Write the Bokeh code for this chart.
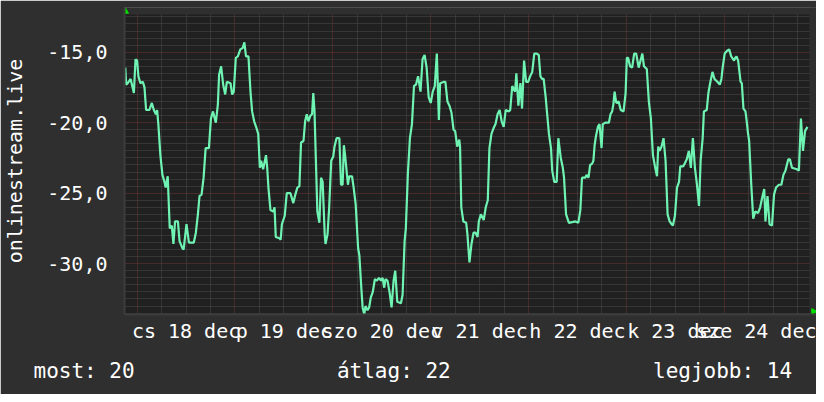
import math
from bokeh.plotting import figure
from bokeh.models import Range1d, FixedTicker, Title
from bokeh.embed import file_html
from bokeh.resources import INLINE

# hours since Thu 18 Dec 00:00
hours = [
    -2.9, -2.7, -2.3, -1.6, -0.8, -0.4, 0.0, 0.3, 0.8, 1.4, 1.8, 2.2, 3.0, 3.6, 4.1, 4.6, 4.9, 5.2, 5.7, 6.2,
    6.7, 7.0, 7.5, 8.0, 8.5, 8.9, 9.3, 10.0, 10.4, 11.1, 11.4, 12.1, 12.7, 13.9, 14.4, 14.9, 15.3, 15.8, 16.3, 16.8,
    17.6, 18.1, 18.6, 19.3, 19.8, 20.1, 20.6, 21.1, 21.6, 22.0, 22.9, 23.3, 23.7, 24.2, 24.7, 25.3,
    25.9, 26.3, 26.7, 27.3, 27.8, 28.2, 28.7, 29.3, 29.7, 30.1, 30.4, 30.9, 31.6, 31.9, 32.2, 32.7, 33.4, 33.7,
    34.0, 34.9, 35.2, 35.5, 36.2, 36.7, 37.6, 38.3, 38.8, 39.3, 39.8, 40.2, 40.8, 41.2, 41.6, 42.0, 42.5, 42.9,
    43.2, 43.5, 43.8, 44.2, 44.7, 45.1, 45.5, 46.0, 46.2, 46.7, 47.1, 47.6, 48.1, 48.4, 48.9, 49.6, 50.0, 50.4,
    50.7, 51.0, 51.7, 52.0, 52.7, 53.1, 53.6,
    54.2, 54.5, 55.0, 55.3, 55.7, 56.0, 56.5, 56.9, 57.3, 57.8, 58.3, 58.8, 59.3, 59.8, 60.2, 60.6, 60.9, 61.4,
    61.9, 62.4, 62.9, 63.3, 63.8, 64.7, 65.1, 65.6, 65.9, 66.4, 66.9, 67.4, 67.9, 68.4, 68.9, 69.5, 70.0, 70.5,
    71.0, 71.5, 72.0, 72.5, 73.0, 73.5, 74.0, 74.3, 75.3, 75.6, 76.1, 76.6, 77.1, 77.6, 78.0, 78.5, 79.0, 79.2,
    79.5, 80.0, 80.7, 81.0, 81.5,
    82.0, 82.5, 83.0, 83.5, 83.8, 84.3, 85.0, 85.5, 86.0, 86.4, 86.9, 87.4, 87.9, 88.4, 88.9, 89.4, 89.9, 90.4,
    91.2, 91.5, 92.0, 92.7, 93.0, 93.5, 94.0, 94.4, 94.9, 95.4, 95.9, 96.4, 96.9, 97.4, 98.0, 98.5, 98.9, 99.3,
    99.7, 100.2, 100.5, 101.0, 101.5, 101.8, 102.3, 102.9, 103.3, 103.9, 104.4, 104.7, 105.2, 105.9, 107.5,
    108.2, 108.7, 109.1,
    109.9, 110.2, 110.7, 111.1, 111.6, 111.9, 112.2, 112.5, 113.0, 113.4, 113.9, 114.2, 114.8, 115.7, 116.1,
    116.5, 116.8, 117.1, 117.5, 118.1, 118.6, 119.3, 119.8, 120.1, 120.4, 120.9, 121.4, 121.9, 122.4, 123.0,
    123.9, 124.3, 125.0, 125.5, 126.0, 126.5, 127.0, 127.5, 127.8, 128.1, 128.6, 129.1, 129.6, 130.1, 130.6,
    131.1, 131.4, 131.9, 132.4, 132.9, 133.2, 133.9, 134.3, 134.8, 135.3, 135.8, 136.3, 136.8, 137.3, 137.8,
    138.2, 138.7, 139.0, 139.7, 140.1, 140.6, 141.1, 141.6, 142.3, 142.9, 143.3, 143.6, 144.1, 144.7, 145.2,
    145.7, 146.4, 146.7, 147.0, 147.4, 148.0, 148.3, 148.7, 149.2, 149.5, 149.8, 150.1, 150.6, 151.1, 151.6,
    152.3, 152.8, 153.3, 153.8, 154.1, 154.6, 155.1, 155.7, 156.2, 156.7, 157.4, 158.0, 158.5, 159.0, 159.7,
    160.1, 160.6, 161.8, 162.3, 162.8, 163.3, 163.8, 164.4,
]

values = [
    -16.1, -17.3, -17.2, -16.9, -17.9, -15.5, -15.6, -16.7, -17.2, -17.1, -17.5, -19.1, -19.1, -18.6, -19.1, -19.4, -19.1, -20.1, -22.3, -23.7,
    -24.2, -24.6, -23.8, -27.5, -27.3, -28.6, -27.0, -27.0, -28.4, -28.9, -29.0, -27.2, -28.5, -28.5, -27.8, -26.5, -25.2, -25.1, -23.9, -21.8,
    -21.8, -19.7, -19.2, -20.0, -18.7, -16.6, -16.0, -17.3, -18.0, -17.1, -17.2, -18.0, -17.8, -15.4, -15.3, -14.8,
    -14.7, -14.3, -15.3, -15.3, -17.8, -19.2, -19.9, -20.4, -20.8, -23.2, -22.7, -23.3, -22.3, -23.2, -24.6, -26.2, -26.3, -26.0,
    -28.1, -28.2, -28.3, -27.2, -26.6, -25.0, -25.0, -25.7, -25.1, -24.6, -24.5, -21.4, -21.3, -19.9, -19.4, -19.9, -19.5, -19.4,
    -17.9, -19.2, -22.3, -26.3, -27.1, -23.9, -24.2, -27.9, -28.6, -27.9, -26.0, -22.7, -22.4, -21.7, -21.1, -21.1, -24.4, -24.4,
    -21.6, -22.3, -24.4, -23.8, -23.8, -24.6, -25.8,
    -28.9, -29.4, -31.8, -33.1, -33.6, -33.0, -33.3, -33.1, -32.4, -32.0, -31.1, -31.2, -31.0, -31.2, -31.0, -31.7, -31.1, -31.2,
    -32.0, -33.1, -31.2, -30.5, -32.7, -32.8, -32.2, -28.4, -27.5, -23.6, -21.1, -20.1, -17.4, -17.3, -16.7, -17.8, -15.5, -15.2,
    -16.1, -18.2, -18.6, -17.8, -17.4, -15.1, -19.8, -17.2, -17.1, -17.1, -18.5, -18.8, -19.3, -20.5, -20.6, -21.7, -21.2, -21.7,
    -26.0, -27.0, -27.1, -27.9, -29.9,
    -28.6, -27.8, -27.8, -28.1, -27.0, -26.5, -26.9, -26.0, -25.5, -21.8, -20.8, -20.4, -20.1, -19.4, -19.1, -19.9, -20.3, -19.1,
    -19.2, -19.1, -17.4, -17.8, -16.5, -18.8, -17.2, -19.0, -15.6, -17.1, -17.1, -16.7, -16.4, -15.1, -15.1, -15.2, -16.7, -16.9,
    -16.9, -18.2, -19.2, -20.8, -21.8, -23.4, -24.2, -24.2, -21.1, -22.5, -23.2, -23.9, -26.5, -27.1, -27.0,
    -27.1, -26.2, -23.9,
    -23.9, -23.7, -23.9, -23.0, -22.9, -22.7, -21.6, -21.0, -20.3, -20.1, -21.8, -20.1, -20.0, -20.0, -19.4,
    -19.2, -18.7, -17.8, -18.6, -18.5, -19.1, -19.2, -17.9, -15.4, -15.4, -16.0, -16.1, -15.1, -15.1, -16.1,
    -15.1, -16.0, -16.2, -18.5, -19.7, -22.3, -23.1, -23.8, -21.7, -22.0, -21.7, -21.1, -22.7, -26.5, -27.0,
    -27.2, -27.3, -26.6, -24.6, -24.2, -23.1, -23.1, -22.9, -22.6, -22.0, -23.2, -21.1, -23.2, -24.4, -25.9,
    -22.7, -21.1, -19.2, -19.1, -17.9, -17.1, -16.4, -16.9, -17.1, -17.3, -16.9, -16.1, -15.1, -14.9, -14.8,
    -15.3, -15.6, -15.4, -15.3, -15.6, -17.1, -17.2, -19.0, -19.2, -19.9, -20.7, -21.3, -24.3, -26.8, -26.3,
    -26.4, -26.0, -25.3, -24.7, -27.0, -25.2, -27.2, -27.3, -25.1, -24.6, -24.4, -24.4, -23.7, -23.4, -22.6,
    -22.6, -23.2, -23.3, -23.4, -19.7, -22.0, -20.6, -20.3,
]

day_ticks = [12, 36, 60, 84, 108, 132, 156]
day_labels = ["cs 18 dec", "p 19 dec", "szo 20 dec", "v 21 dec", "h 22 dec", "k 23 dec", "sze 24 dec"]
midnights = [0, 24, 48, 72, 96, 120, 144]
y_ticks = [-30, -25, -20, -15]
y_tick_labels = ["-30,0", "-25,0", "-20,0", "-15,0"]
axis_title = "onlinestream.live"
stats_labels = ["most: 20", "átlag: 22", "legjobb: 14"]
stats_columns = [0, 24, 49]  # character columns of each statistic in the footer line

# graph window (one week) and value range
x_start, x_end = -3.1, 164.9
y_start, y_end = -33.6, -12.33

# layout (pixels)
PLOT_W, PLOT_H = 685, 300       # drawn graph area
EXTRA_TOP, EXTRA_RIGHT = 7, 7   # room for the axis arrow heads
px_x = (x_end - x_start) / PLOT_W
px_y = (y_end - y_start) / PLOT_H
fx_end = x_end + EXTRA_RIGHT * px_x
fy_end = y_end + EXTRA_TOP * px_y

minor_x = [h for h in range(0, 168, 6) if h % 24 != 0]
minor_y = [k * 0.5 for k in range(-67, -24) if k % 10 != 0]

FONT = "DejaVu Sans Mono"
TXT = "#ffffff"
OUTER = "#2f2f2f"
ARROW = "#00dd00"

p = figure(width=816, height=394, output_backend="svg", toolbar_location=None,
           x_range=Range1d(x_start, fx_end), y_range=Range1d(y_start, fy_end),
           min_border_left=124, min_border_right=0, min_border_top=7, min_border_bottom=80,
           background_fill_color="#202020", border_fill_color=OUTER,
           outline_line_color=None)

p.xgrid.ticker = FixedTicker(ticks=midnights, minor_ticks=minor_x)
p.ygrid.ticker = FixedTicker(ticks=y_ticks, minor_ticks=minor_y)
for g in (p.xgrid, p.ygrid):
    g.grid_line_color = "#6e3434"
    g.grid_line_dash = "1 1"
    g.grid_line_width = 1
    g.minor_grid_line_color = "#4c4c4c"
    g.minor_grid_line_dash = "1 1"
    g.minor_grid_line_width = 1

p.xaxis.ticker = FixedTicker(ticks=day_ticks)
p.xaxis.major_label_overrides = dict(zip(day_ticks, day_labels))
p.yaxis.ticker = FixedTicker(ticks=y_ticks)
p.yaxis.major_label_overrides = dict(zip(y_ticks, y_tick_labels))

for ax in (p.xaxis, p.yaxis):
    ax.major_tick_line_color = None
    ax.minor_tick_line_color = None
    ax.major_tick_out = 0
    ax.major_tick_in = 0
    ax.axis_line_color = "#3c3c3c"
    ax.axis_line_width = 2
    ax.major_label_text_font = FONT
    ax.major_label_text_font_size = "20px"
    ax.major_label_text_color = TXT

p.xaxis.major_label_standoff = 4
p.yaxis.major_label_standoff = 17
p.yaxis.axis_label = axis_title
p.yaxis.axis_label_text_font = FONT
p.yaxis.axis_label_text_font_size = "20px"
p.yaxis.axis_label_text_font_style = "normal"
p.yaxis.axis_label_text_color = TXT
p.yaxis.axis_label_standoff = 17

# mask the arrow margin strips (top and right) with the outer colour
p.quad(left=[x_start, x_end], right=[fx_end, fx_end], bottom=[y_end, y_start], top=[fy_end, fy_end],
       fill_color=OUTER, line_color=None)

p.line(hours, values, line_color="#6ff3b3", line_width=2.2)

# small green arrow heads at the ends of the axes
p.scatter(x=[x_start + 1 * px_x], y=[y_end + 3 * px_y], marker="triangle", size=6,
          fill_color=ARROW, line_color=ARROW)
p.scatter(x=[x_end + 4 * px_x], y=[y_start + 3 * px_y], marker="triangle", size=6,
          angle=-math.pi / 2, fill_color=ARROW, line_color=ARROW)

# footer line with the statistics (monospace, columns padded with no-break spaces)
footer = ""
for col, txt in zip(stats_columns, stats_labels):
    footer += "\u00a0" * (col - len(footer)) + txt
p.add_layout(Title(text=footer, align="left", offset=-91, standoff=22,
                   text_font=FONT, text_font_size="21px", text_font_style="normal",
                   text_color=TXT), "below")

open("out.html", "w").write(file_html(p, INLINE))
